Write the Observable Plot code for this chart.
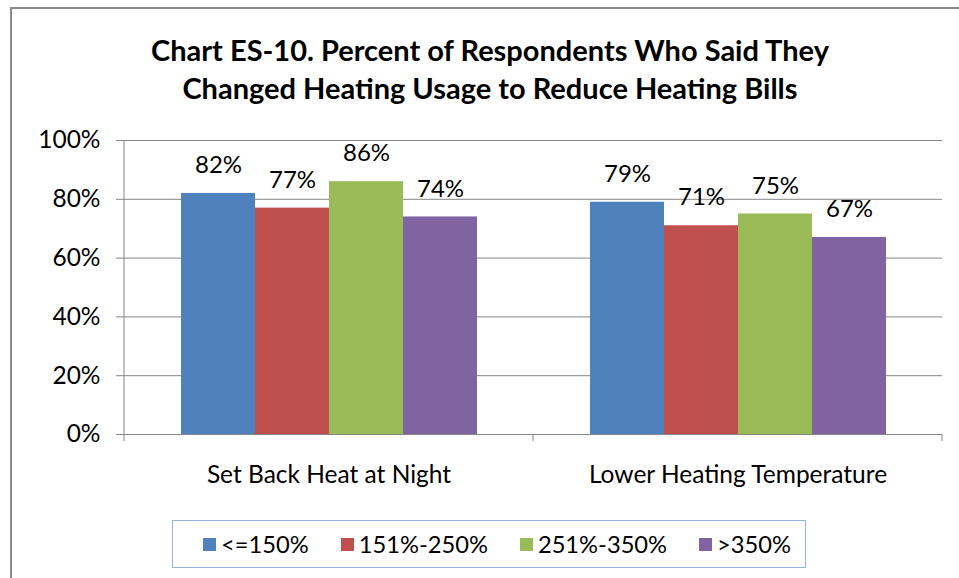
<!DOCTYPE html>
<html><head><meta charset="utf-8">
<script src="https://cdn.jsdelivr.net/npm/d3@7"></script>
<script src="https://cdn.jsdelivr.net/npm/@observablehq/plot@0.6"></script>
<style>
body{margin:0;background:#fff;font-family:Lato,sans-serif;}
#wrap{position:relative;width:959px;height:578px;overflow:hidden;background:#fff;}
#border{position:absolute;left:10px;top:7px;width:1000px;height:1000px;border-left:2px solid #8a8a8a;border-top:2px solid #8a8a8a;}
#title{position:absolute;left:0;width:980px;top:31px;text-align:center;font-weight:bold;font-size:29px;line-height:38px;color:#000;}
#chart{position:absolute;left:0;top:120px;}
#legend{position:absolute;left:172px;top:520px;width:634px;height:48px;border:1.5px solid #95b3d7;display:flex;align-items:center;padding-left:30px;box-sizing:border-box;font-size:23.7px;color:#000;}
.item{display:flex;align-items:center;margin-right:32px;}
.sw{width:13px;height:13px;margin-right:5px;}
</style></head>
<body>
<div id="wrap">
  <div id="border"></div>
  <div id="title">Chart ES-10. Percent of Respondents Who Said They<br>Changed Heating Usage to Reduce Heating Bills</div>
  <div id="chart"></div>
  <div id="legend"></div>
</div>
<script>
const categories = ["Set Back Heat at Night", "Lower Heating Temperature"];
const series = ["<=150%", "151%-250%", "251%-350%", ">350%"];
const setBackValues = [0.82, 0.77, 0.86, 0.74];
const lowerTempValues = [0.79, 0.71, 0.75, 0.67];
const yTicks = [0, 0.2, 0.4, 0.6, 0.8, 1.0];
const colors = ["#4f81bd", "#c0504d", "#9bbb59", "#8064a2"];

const data = [setBackValues, lowerTempValues].flatMap((vals, ci) =>
  vals.map((v, si) => ({category: categories[ci], series: series[si], value: v})));
const pct = d3.format(".0%");

const plot = Plot.plot({
  width: 959, height: 380,
  marginLeft: 123, marginRight: 17, marginTop: 20, marginBottom: 66,
  style: {fontFamily: "Lato, sans-serif", fontSize: "24px", color: "#000", background: "transparent", overflow: "visible"},
  fx: {domain: categories, padding: 0, label: null},
  x: {domain: series, paddingInner: 0, paddingOuter: 0.76, axis: null},
  y: {domain: [0, 1]},
  color: {domain: series, range: colors},
  marks: [
    Plot.gridY(yTicks, {stroke: "#868686", strokeOpacity: 1}),
    Plot.axisY(yTicks, {tickSize: 8, tickPadding: 16, stroke: "#868686", fill: "#000", tickFormat: pct, label: null, fontSize: 24.5}),
    Plot.axisFx({anchor: "bottom", tickSize: 0, tickPadding: 31, label: null, fontSize: 24.5, fill: "#000"}),
    Plot.barY(data, {fx: "category", x: "series", y: "value", fill: "series"}),
    Plot.ruleY([0], {stroke: "#868686"}),
    Plot.text(data, {fx: "category", x: "series", y: "value", text: d => pct(d.value), dy: -28, fontSize: 24, fill: "#000"})
  ]
});
document.getElementById("chart").appendChild(plot);

// Category-axis line and boundary ticks derived from the plot's own scales
const fxS = plot.scale("fx"), yS = plot.scale("y");
const y0 = yS.apply(0), y1 = yS.apply(1);
const edges = categories.map(c => fxS.apply(c)).concat([fxS.apply(categories[categories.length - 1]) + fxS.bandwidth]);
const svg = d3.select(plot);
const g = svg.append("g").attr("stroke", "#868686");
g.append("line").attr("x1", edges[0]).attr("x2", edges[0]).attr("y1", y1).attr("y2", y0);
edges.forEach(x => g.append("line").attr("x1", x).attr("x2", x).attr("y1", y0).attr("y2", y0 + 7));

// Legend
const legend = d3.select("#legend");
series.forEach((s, i) => {
  const it = legend.append("div").attr("class", "item");
  it.append("div").attr("class", "sw").style("background", colors[i]);
  it.append("span").text(s);
});
</script>
</body></html>
